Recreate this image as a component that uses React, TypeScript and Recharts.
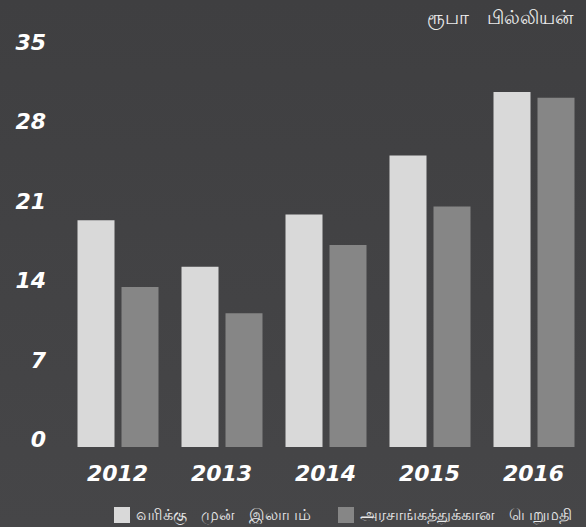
import React from "react";
import { BarChart, Bar, XAxis, YAxis } from "recharts";

const years = ["2012", "2013", "2014", "2015", "2016"];
const profitBeforeTax = [20.0, 15.9, 20.5, 25.7, 31.3];
const valueToGovernment = [14.1, 11.8, 17.8, 21.2, 30.8];
const yTicks = [0, 7, 14, 21, 28, 35];
const seriesNames = ["வரிக்கு முன் இலாபம்", "அரசாங்கத்துக்கான பெறுமதி"];
const unitLabel = "ரூபா பில்லியன்";

const colors = ["#d9d9d9", "#868686"];

const data = years.map((y, i) => ({
  year: y,
  a: profitBeforeTax[i],
  b: valueToGovernment[i],
}));

const numFont = "'DejaVu Sans', sans-serif";
const tamilFont = "'Noto Sans', 'DejaVu Sans', sans-serif";

const XTick = (props: any) => {
  const { x, y, payload } = props;
  return (
    <text
      x={x}
      y={y + 34}
      textAnchor="middle"
      fill="#ffffff"
      fontFamily={numFont}
      fontWeight="bold"
      fontStyle="italic"
      fontSize={22}
    >
      {payload.value}
    </text>
  );
};

const YTick = (props: any) => {
  const { y, payload } = props;
  return (
    <text
      x={46}
      y={y}
      textAnchor="end"
      fill="#ffffff"
      fontFamily={numFont}
      fontWeight="bold"
      fontStyle="italic"
      fontSize={22}
    >
      {payload.value}
    </text>
  );
};

const LegendBlock = () => (
  <div
    style={{
      position: "absolute",
      left: 114,
      top: 506,
      display: "flex",
      alignItems: "center",
      fontFamily: tamilFont,
      fontSize: 16,
      color: "#e8e8e8",
      whiteSpace: "pre",
      wordSpacing: 10,
      lineHeight: "17px",
    }}
  >
    {seriesNames.map((n, i) => (
      <div
        key={n}
        style={{ display: "flex", alignItems: "center", marginRight: i === 0 ? 27 : 0 }}
      >
        <span
          style={{ width: 16, height: 16, background: colors[i], display: "inline-block", marginRight: 6 }}
        />
        <span>{n}</span>
      </div>
    ))}
  </div>
);

export default function App() {
  return (
    <div
      style={{
        position: "absolute",
        left: 0,
        top: 0,
        width: 586,
        height: 527,
        background: "linear-gradient(#3f3f41, #464648)",
        overflow: "hidden",
      }}
    >
      <div
        style={{
          position: "absolute",
          top: 4,
          right: 13,
          fontFamily: tamilFont,
          fontSize: 19,
          color: "#ececec",
          whiteSpace: "pre",
          wordSpacing: 13,
        }}
      >
        {unitLabel}
      </div>
      <BarChart
        width={586}
        height={527}
        data={data}
        margin={{ top: 50, right: 0.5, left: 0, bottom: 50 }}
        barGap={7}
        barSize={37}
      >
        <XAxis
          dataKey="year"
          height={30}
          axisLine={false}
          tickLine={false}
          tickSize={0}
          tickMargin={0}
          tick={<XTick />}
          interval={0}
        />
        <YAxis
          width={65.5}
          domain={[0, 35]}
          ticks={yTicks}
          axisLine={false}
          tickLine={false}
          tickSize={0}
          tickMargin={0}
          tick={<YTick />}
          interval={0}
        />
        <Bar dataKey="a" name={seriesNames[0]} fill={colors[0]} isAnimationActive={false} />
        <Bar dataKey="b" name={seriesNames[1]} fill={colors[1]} isAnimationActive={false} />
      </BarChart>
      <LegendBlock />
    </div>
  );
}
